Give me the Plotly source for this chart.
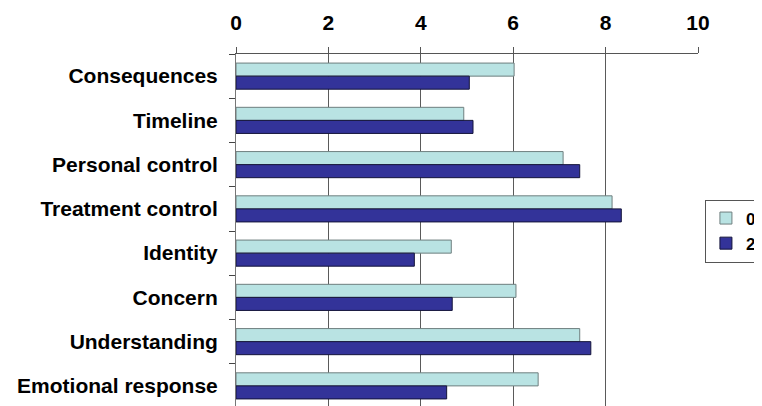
import plotly.graph_objects as go

categories = ["Consequences", "Timeline", "Personal control", "Treatment control",
              "Identity", "Concern", "Understanding", "Emotional response"]
series_0 = [6.02, 4.93, 7.08, 8.14, 4.66, 6.06, 7.44, 6.54]
series_2 = [5.05, 5.13, 7.44, 8.34, 3.86, 4.68, 7.68, 4.56]
series_names = ["0", "2"]
x_ticks = [0, 2, 4, 6, 8, 10]

FONT = "Liberation Sans, Arial, sans-serif"

fig = go.Figure()
fig.add_trace(go.Bar(
    y=categories, x=series_0, name=series_names[0], orientation="h",
    marker=dict(color="#B9E3E3", line=dict(color="#6f7f7f", width=1)),
))
fig.add_trace(go.Bar(
    y=categories, x=series_2, name=series_names[1], orientation="h",
    marker=dict(color="#333399", line=dict(color="#14143a", width=1)),
))

fig.update_layout(
    width=754, height=400,
    margin=dict(l=228, r=64, t=46, b=0, autoexpand=False),
    paper_bgcolor="white", plot_bgcolor="white",
    barmode="group", bargap=0.41, bargroupgap=0,
    font=dict(family=FONT, color="black"),
    showlegend=True,
    legend=dict(
        x=1.015, xanchor="left", y=0.5, yanchor="middle",
        bordercolor="#555555", borderwidth=1,
        font=dict(family=FONT, size=17, color="black", weight="bold"),
        tracegroupgap=0, itemwidth=30,
    ),
    xaxis=dict(
        side="top", range=[0, 10], tickvals=x_ticks,
        ticktext=[str(v) for v in x_ticks],
        showgrid=True, gridcolor="#5a5a5a", gridwidth=1,
        showline=True, linecolor="#555555", linewidth=1,
        ticks="outside", ticklen=6, tickcolor="#555555",
        ticklabelstandoff=9, automargin=False,
        tickfont=dict(family=FONT, size=21, color="black", weight="bold"),
        zeroline=False, fixedrange=True,
    ),
    yaxis=dict(
        autorange="reversed", type="category",
        showline=True, linecolor="#777777", linewidth=1,
        ticks="outside", ticklen=6, tickcolor="#444444", tickwidth=1,
        tickson="boundaries", ticklabelstandoff=13, automargin=False,
        tickfont=dict(family=FONT, size=21, color="black", weight="bold"),
        showgrid=False, fixedrange=True,
    ),
)

fig.write_html("out.html")
